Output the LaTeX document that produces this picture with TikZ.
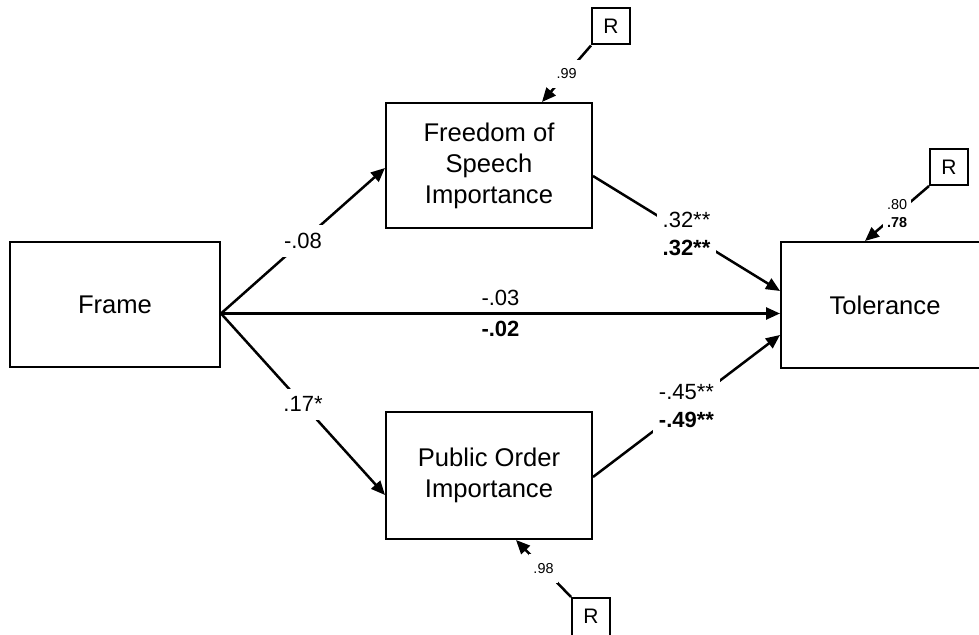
\documentclass[tikz,border=0pt]{standalone}
\usepackage{fontspec}
\setmainfont{Liberation Sans}
\usetikzlibrary{arrows.meta}
\begin{document}
\begin{tikzpicture}[x=0.5pt,y=-0.5pt,
  box/.style={draw, line width=1pt, rectangle, align=center, inner sep=0pt,
    font=\fontsize{12.8}{15.5}\selectfont},
  rbox/.style={draw, line width=1pt, rectangle, minimum width=19pt, minimum height=18pt,
    inner sep=0pt, font=\fontsize{10.5}{12}\selectfont},
  conn/.style={line width=1.25pt, -{Triangle[length=7pt,width=6pt]}},
  lab/.style={fill=white, inner xsep=3pt, inner ysep=4pt, align=center,
    font=\fontsize{11}{14}\selectfont},
  hlab/.style={align=center, font=\fontsize{11}{14}\selectfont},
  slab/.style={fill=white, inner xsep=2pt, inner ysep=4.5pt, align=center,
    font=\fontsize{7.2}{9}\selectfont},
]
\useasboundingbox (0,0) rectangle (979,635);
\clip (0,0) rectangle (979,635);

% main boxes
\node[box, minimum width=105pt, minimum height=62.5pt] (frame) at (115,304.5) {Frame};
\node[box, minimum width=103pt, minimum height=62.5pt] (freedom) at (489,165.5) {Freedom of\\Speech\\Importance};
\node[box, minimum width=103pt, minimum height=63.5pt] (public) at (489,475.5) {Public Order\\Importance};
\node[box, minimum width=104pt, minimum height=63pt] (tol) at (885,305) {Tolerance};

% residual boxes
\node[rbox] (r1) at (611,26.5) {R};
\node[rbox] (r2) at (949,167) {R};
\node[rbox, minimum height=24pt, text depth=5.5pt, anchor=north] (r3) at (591,597) {R};

% paths from Frame
\draw[conn] ([yshift=-4.5pt]frame.east) -- node[lab]{-.08} ([yshift=-1.25pt]freedom.west);
\draw[conn] ([yshift=-4.5pt]frame.east) -- node[lab]{.17*} ([yshift=-9.75pt]public.west);
\draw[conn] ([yshift=-4.5pt]frame.east) -- node[hlab, above]{-.03} node[hlab, below]{\textbf{-.02}} ([yshift=-4.25pt]tol.west);

% paths to Tolerance
\draw[conn] ([yshift=-5.25pt]freedom.east) -- node[lab]{.32**\\\textbf{.32**}} ([yshift=7pt]tol.west);
\draw[conn] ([yshift=-0.75pt]public.east) -- node[lab]{-.45**\\\textbf{-.49**}} ([yshift=-15pt]tol.west);

% residual paths
\draw[conn] (r1.south west) -- node[slab]{.99} ([xshift=26.5pt]freedom.north);
\draw[conn] (r2.south west) -- node[slab]{.80\\\textbf{.78}} ([xshift=-10pt]tol.north);
\draw[conn] (r3.north west) -- node[slab]{.98} ([xshift=13.5pt]public.south);
\end{tikzpicture}
\end{document}
